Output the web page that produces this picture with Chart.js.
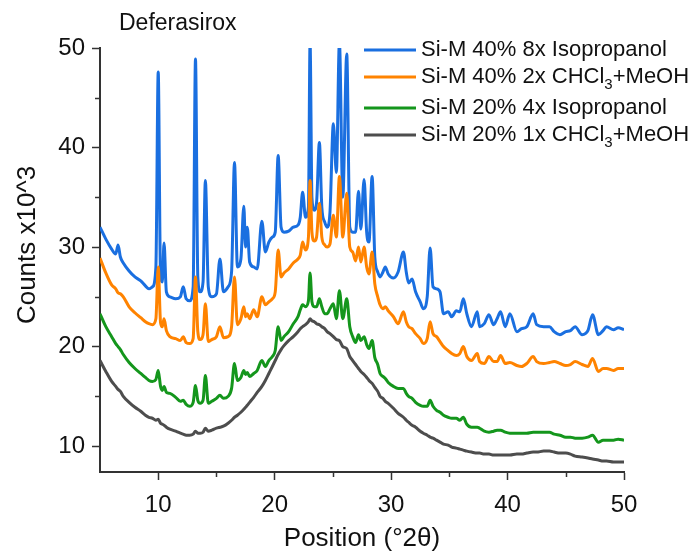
<!DOCTYPE html>
<html>
<head>
<meta charset="utf-8">
<script src="https://cdn.jsdelivr.net/npm/chart.js@4.4.0/dist/chart.umd.min.js"></script>
<style>
  html, body { margin: 0; padding: 0; background: #fff; }
</style>
</head>
<body>
<canvas id="chart" width="690" height="554"></canvas>
<script>
const FONT = "'Liberation Sans', Arial, sans-serif";

// 2-theta positions (deg), shared by all four patterns
const positions = [
  5.0, 5.5, 6.0, 6.35, 6.55, 6.75, 7.0, 7.5, 8.0, 8.5,
  8.9, 9.2, 9.5, 9.8, 10.0, 10.2, 10.35, 10.5, 10.7, 11.0,
  11.5, 11.9, 12.15, 12.4, 12.7, 13.0, 13.2, 13.4, 13.6, 13.85,
  14.05, 14.3, 14.6, 15.0, 15.3, 15.6, 16.0, 16.3, 16.55, 16.8,
  17.1, 17.35, 17.5, 17.65, 17.85, 18.2, 18.5, 18.9, 19.2, 19.5,
  19.8, 20.05, 20.3, 20.55, 20.8, 21.2, 21.6, 22.0, 22.2, 22.4,
  22.65, 22.9, 23.04, 23.2, 23.4, 23.6, 23.84, 24.05, 24.3, 24.5,
  24.75, 25.04, 25.3, 25.56, 25.85, 26.19, 26.45, 26.7, 26.95, 27.2,
  27.4, 27.68, 27.9, 28.1, 28.37, 28.6, 28.85, 29.05, 29.3, 29.5,
  29.75, 30.2, 30.6, 31.06, 31.3, 31.5, 31.8, 32.1, 32.5, 32.77,
  33.1, 33.35, 33.6, 33.9, 34.2, 34.5, 34.9, 35.2, 35.6, 35.9,
  36.2, 36.5, 36.9, 37.4, 37.6, 38.0, 38.4, 38.8, 39.1, 39.4,
  39.8, 40.2, 40.8, 41.2, 41.65, 42.2, 42.5, 43.1, 43.6, 44.0,
  44.5, 45.0, 45.4, 45.8, 46.4, 46.9, 47.3, 47.8, 48.2, 48.5,
  49.1, 49.5, 50.0
];

// counts x10^3
const siM40Iso8x = [
  32.0, 30.8, 29.8, 29.3, 30.2, 29.0, 28.4, 27.6, 27.0, 26.6,
  26.1, 25.8, 26.0, 28.0, 47.6, 27.0, 26.5, 30.4, 25.5, 25.0,
  24.8, 25.0, 26.0, 24.8, 24.6, 26.0, 48.9, 27.0, 25.5, 26.5,
  36.7, 26.0, 25.0, 25.3, 28.8, 25.5, 26.0, 27.5, 38.5, 28.0,
  28.8, 34.1, 30.0, 32.0, 28.5, 28.0, 27.8, 32.6, 29.5, 30.5,
  31.0, 31.5, 39.2, 32.0, 31.5, 31.6, 32.0, 32.2, 33.0, 35.5,
  33.0, 34.0, 50.6, 35.0, 33.7, 34.5, 40.5, 34.0, 32.5, 32.0,
  33.5, 42.4, 37.5, 50.6, 35.0, 49.4, 32.0, 31.5, 31.5, 35.6,
  31.8, 36.8, 31.5, 30.5, 37.1, 29.0, 27.5, 27.0, 27.5, 28.0,
  27.3, 26.9, 27.5, 29.5, 27.5, 26.4, 26.8, 25.5, 24.5, 23.8,
  25.0, 29.9, 26.0, 25.8, 25.5, 23.3, 23.5, 23.0, 23.6, 23.5,
  24.8, 23.3, 22.0, 23.5, 22.0, 22.3, 23.2, 22.2, 22.8, 23.5,
  22.0, 23.3, 21.5, 21.8, 22.0, 23.3, 22.2, 22.0, 22.0, 21.5,
  21.2, 21.5, 21.6, 22.0, 21.2, 21.6, 23.2, 21.2, 21.6, 22.0,
  21.7, 21.9, 21.7
];

const siM40Chcl2x = [
  28.9, 27.4, 26.2, 25.8, 25.4, 25.3, 25.0, 24.0, 23.4, 22.9,
  22.5, 22.3, 22.2, 22.8, 28.0, 22.4, 22.0, 22.8, 21.6, 21.0,
  20.8, 20.6, 21.0, 20.4, 20.3, 20.8, 27.0, 21.5, 20.7, 21.2,
  24.3, 20.5, 20.7, 21.0, 22.0, 20.9, 21.0, 22.0, 27.0, 22.2,
  22.8, 24.0, 23.0, 23.3, 22.8, 23.7, 23.0, 25.0, 24.2, 24.5,
  24.8, 25.5, 29.7, 27.0, 27.4, 27.8, 28.4, 28.8, 29.2, 30.5,
  29.7, 31.0, 36.7, 31.5, 30.6, 31.0, 34.4, 31.0, 30.2, 30.0,
  30.3, 33.2, 31.0, 37.1, 31.0, 35.4, 30.0, 29.5, 28.6, 30.0,
  28.5, 30.0, 28.0, 27.3, 29.5, 26.3, 25.0, 24.2, 23.8, 24.0,
  23.6, 23.0, 22.3, 23.5, 22.5, 22.0, 21.8, 21.3, 20.8, 20.3,
  20.8, 22.5, 21.3, 21.0, 20.5, 20.0, 19.6, 19.3, 19.1, 19.3,
  20.0, 19.0, 18.6, 19.3, 18.5, 18.3, 19.0, 18.5, 18.5, 19.1,
  18.3, 18.4, 18.1, 18.0, 18.3, 19.0, 18.5, 18.3, 18.4, 18.5,
  18.3, 18.1, 18.2, 18.5, 18.2, 18.0, 18.8, 17.5, 17.8, 17.8,
  17.6, 17.8, 17.8
];

const siM20Iso4x = [
  23.3, 22.0, 21.0, 20.3, 20.0, 19.7, 19.2, 18.4, 17.8, 17.3,
  16.9, 16.6, 16.5, 16.7, 17.6, 16.0, 15.6, 16.0, 15.4, 15.3,
  14.9, 14.5, 14.6, 14.2, 14.0, 14.4, 16.1, 14.6, 14.3, 14.6,
  17.1, 14.3, 14.5, 14.8, 15.1, 14.8, 15.0, 15.8, 18.3, 16.6,
  16.9, 17.6, 17.2, 17.4, 17.0, 17.3, 17.6, 18.6, 18.0, 18.6,
  19.0, 19.6, 22.0, 20.6, 21.0, 21.5, 22.3, 23.0, 23.7, 24.2,
  24.0, 24.6, 27.4, 24.5, 24.0, 24.0, 24.8, 24.0, 23.3, 23.3,
  23.8, 24.3, 22.8, 25.6, 22.8, 24.8, 22.0, 21.0, 20.4, 21.2,
  20.6, 21.0, 20.2, 19.8, 20.6, 18.9, 18.2, 17.3, 17.0, 16.8,
  16.4, 16.0, 15.8, 15.8, 15.3, 15.0, 14.8, 14.4, 14.1, 14.0,
  14.0, 14.6, 14.0, 13.6, 13.4, 13.1, 12.9, 12.8, 12.8, 12.6,
  12.9, 12.2, 11.9, 11.9, 11.8, 11.5, 11.4, 11.5, 11.6, 11.6,
  11.4, 11.3, 11.3, 11.3, 11.3, 11.4, 11.4, 11.4, 11.4, 11.2,
  11.1, 10.9, 10.9, 10.8, 10.8, 10.9, 11.1, 10.4, 10.6, 10.6,
  10.6, 10.7, 10.6
];

const siM20Chcl1x = [
  18.6, 17.5, 16.5, 16.0, 15.7, 15.5, 15.0, 14.4, 13.9, 13.5,
  13.1, 12.9, 12.8, 12.6, 12.7, 12.3, 12.2, 12.1, 11.9, 11.7,
  11.5, 11.3, 11.2, 11.1, 11.1, 11.2, 11.5, 11.3, 11.3, 11.4,
  11.8, 11.5, 11.6, 11.8, 11.9, 12.0, 12.3, 12.6, 12.9, 13.1,
  13.4, 13.7, 13.9, 14.1, 14.4, 14.9, 15.4, 16.0, 16.6, 17.3,
  18.0, 18.6, 19.2, 19.7, 20.1, 20.6, 21.0, 21.5, 21.8, 22.0,
  22.2, 22.5, 22.8, 22.6, 22.5, 22.3, 22.2, 22.0, 21.8, 21.5,
  21.3, 21.0, 20.7, 20.6, 20.0, 19.8, 19.0, 18.6, 18.2, 17.8,
  17.5, 17.2, 16.9, 16.6, 16.3, 15.9, 15.5, 15.0, 14.8, 14.5,
  14.3, 13.8, 13.3, 12.9, 12.6, 12.4, 12.1, 11.9, 11.5, 11.3,
  11.1, 10.9, 10.8, 10.6, 10.4, 10.2, 10.1, 9.9, 9.8, 9.7,
  9.6, 9.5, 9.4, 9.3, 9.3, 9.2, 9.2, 9.1, 9.1, 9.1,
  9.1, 9.1, 9.2, 9.2, 9.3, 9.4, 9.4, 9.5, 9.5, 9.4,
  9.3, 9.3, 9.2, 9.0, 8.9, 8.8, 8.7, 8.6, 8.5, 8.5,
  8.4, 8.4, 8.4
];

const seriesLabels = [
  'Si-M 40% 8x Isopropanol',
  'Si-M 40% 2x CHCl₃+MeOH',
  'Si-M 20% 4x Isopropanol',
  'Si-M 20% 1x CHCl₃+MeOH'
];
const xTicks = [10, 20, 30, 40, 50];
const yTicks = [10, 20, 30, 40, 50];
const minorTicks = [15, 25, 35, 45];

const colors = ['#1a6fe0', '#ff8300', '#14961c', '#4d4d4d'];
const seriesValues = [siM40Iso8x, siM40Chcl2x, siM20Iso4x, siM20Chcl1x];

const AXIS = '#333333';

// legend drawn by hand so CHCl3 can get a real subscript
const legendBox = {
  id: 'legendBox',
  afterDraw(chart) {
    const ctx = chart.ctx;
    const rows = [50, 77, 108, 135];
    ctx.save();
    ctx.textBaseline = 'middle';
    ctx.fillStyle = '#111';
    chart.data.datasets.forEach((ds, i) => {
      const y = rows[i];
      ctx.strokeStyle = ds.borderColor;
      ctx.lineWidth = 3;
      ctx.beginPath();
      ctx.moveTo(364, y);
      ctx.lineTo(416, y);
      ctx.stroke();
      let x = 421;
      ds.label.split(/(₃)/).forEach(part => {
        if (!part) return;
        if (part === '₃') {
          ctx.font = '15px ' + FONT;
          ctx.fillText('3', x, y + 8);
          x += ctx.measureText('3').width;
        } else {
          ctx.font = '22px ' + FONT;
          ctx.fillText(part, x, y);
          x += ctx.measureText(part).width;
        }
      });
    });
    ctx.restore();
  }
};

const extras = {
  id: 'extras',
  afterDraw(chart) {
    const ctx = chart.ctx;
    const xs = chart.scales.x, ys = chart.scales.y;
    ctx.save();
    // minor ticks
    ctx.strokeStyle = AXIS;
    ctx.lineWidth = 1.5;
    minorTicks.forEach(v => {
      const px = Math.round(xs.getPixelForValue(v)) + 0.5;
      ctx.beginPath(); ctx.moveTo(px, ys.bottom); ctx.lineTo(px, ys.bottom + 5); ctx.stroke();
      const py = Math.round(ys.getPixelForValue(v)) + 0.5;
      ctx.beginPath(); ctx.moveTo(xs.left - 5, py); ctx.lineTo(xs.left, py); ctx.stroke();
    });
    ctx.fillStyle = '#111';
    // sample name
    ctx.font = '23px ' + FONT;
    ctx.textBaseline = 'alphabetic';
    ctx.textAlign = 'left';
    ctx.fillText('Deferasirox', 119, 30);
    // y axis title
    ctx.font = '26px ' + FONT;
    ctx.textAlign = 'center';
    ctx.textBaseline = 'middle';
    ctx.translate(28, 245);
    ctx.rotate(-Math.PI / 2);
    ctx.fillText('Counts x10^3', 0, 0);
    ctx.restore();
  }
};

new Chart('chart', {
  type: 'line',
  data: {
    datasets: seriesValues.map((vals, i) => ({
      label: seriesLabels[i],
      data: positions.map((p, j) => ({ x: p, y: vals[j] })),
      borderColor: colors[i],
      backgroundColor: colors[i],
      borderWidth: 3,
      pointRadius: 0,
      cubicInterpolationMode: 'monotone',
      order: 4 - i
    }))
  },
  options: {
    responsive: false,
    animation: false,
    layout: { padding: { left: 0, right: 66, top: 48, bottom: 0 } },
    plugins: {
      legend: { display: false },
      tooltip: { enabled: false }
    },
    scales: {
      x: {
        type: 'linear',
        min: 5,
        max: 50,
        afterBuildTicks: s => { s.ticks = xTicks.map(v => ({ value: v })); },
        afterFit: s => { s.height = 82; },
        border: { display: true, color: AXIS, width: 2 },
        grid: { drawOnChartArea: false, tickLength: 8, tickColor: AXIS, tickWidth: 1.5 },
        ticks: { color: '#111', font: { family: FONT, size: 24 }, padding: 11, maxRotation: 0 },
        title: { display: true, text: 'Position (°2θ)', color: '#111', font: { family: FONT, size: 26 }, padding: { top: 0, bottom: 0 } }
      },
      y: {
        min: 7.4,
        max: 50,
        afterBuildTicks: s => { s.ticks = yTicks.map(v => ({ value: v })); },
        afterFit: s => { s.width = 100; },
        border: { display: true, color: AXIS, width: 2 },
        grid: { drawOnChartArea: false, tickLength: 8, tickColor: AXIS, tickWidth: 1.5 },
        ticks: { color: '#111', font: { family: FONT, size: 24 }, padding: 7 },
        title: { display: false }
      }
    }
  },
  plugins: [legendBox, extras]
});
</script>
</body>
</html>
